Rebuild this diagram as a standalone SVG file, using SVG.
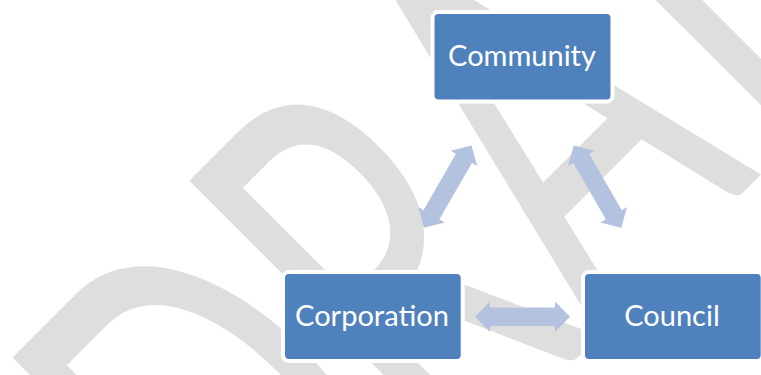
<svg xmlns="http://www.w3.org/2000/svg" xmlns:xlink="http://www.w3.org/1999/xlink" width="761" height="375" viewBox="0 0 761 375">
<style>
.node rect{fill:#4F81BD;stroke:#FFFFFF;stroke-width:4}
.node text{font-family:Lato,"Open Sans","Liberation Sans",sans-serif;font-size:29px;fill:#FFFFFF;text-anchor:middle}
.wm{font-family:Lato,"Liberation Sans",sans-serif;font-size:558px;fill:#DEDEDE}
.conn use{fill:#B3C2DE}
</style>
<defs>
<path id="dblArrow" d="M -47.5 0 L -32.5 -15.3 L -32.5 -9.2 L 32.5 -9.2 L 32.5 -15.3 L 47.5 0 L 32.5 15.3 L 32.5 9.2 L -32.5 9.2 L -32.5 15.3 Z"/>
</defs>
<rect width="761" height="375" fill="#FFFFFF"/>
<g id="watermark" transform="translate(294.8,640.8) rotate(-45) scale(0.61,1)">
<text class="wm" x="-50 360 705 1110 1400" y="0">DRAFT</text>
</g>
<g id="connectors" class="conn">
<use xlink:href="#dblArrow" href="#dblArrow" transform="translate(447.7,186.6) rotate(-60)"/>
<use xlink:href="#dblArrow" href="#dblArrow" transform="translate(597.5,186.6) rotate(60)"/>
<use xlink:href="#dblArrow" href="#dblArrow" transform="translate(522.5,316.7)"/>
</g>
<g id="node-community" class="node">
<rect x="432.5" y="12" width="180" height="89.5" rx="6"/>
<text x="522" y="65.7">Community</text>
</g>
<g id="node-corporation" class="node">
<rect x="283" y="272" width="179.7" height="89" rx="6"/>
<text x="372" y="325.7">Corporation</text>
</g>
<g id="node-council" class="node">
<rect x="583" y="272" width="179.7" height="89" rx="6"/>
<text x="672" y="325.7">Council</text>
</g>
</svg>
